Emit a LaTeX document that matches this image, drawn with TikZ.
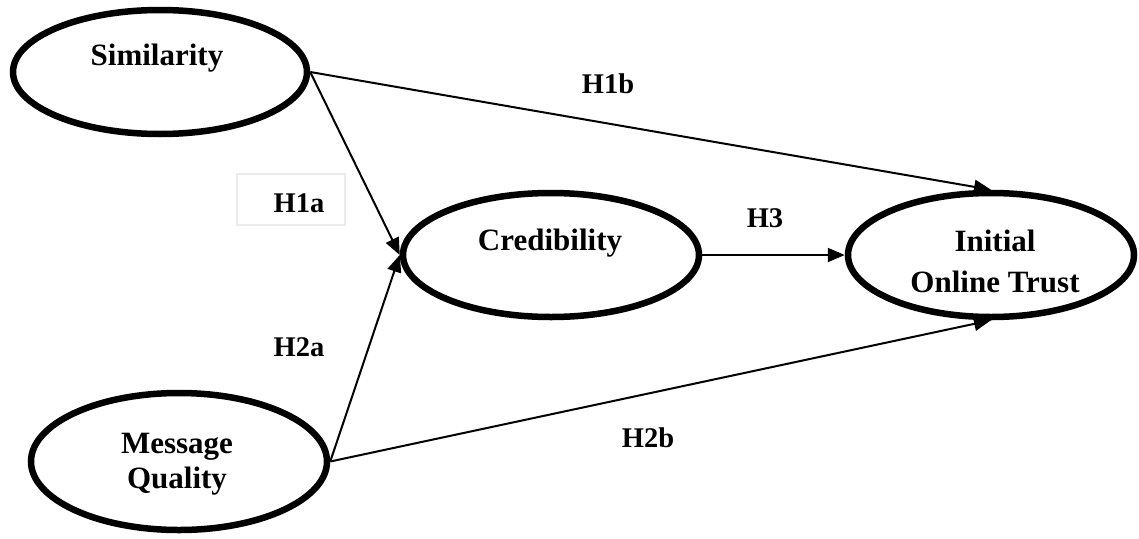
\documentclass[tikz,border=0pt]{standalone}
\usepackage{fontspec}
\setmainfont{Liberation Serif}
\usetikzlibrary{arrows.meta,shapes.geometric}
\tikzset{
  construct/.style={ellipse, draw=black, line width=6.5pt, inner sep=0pt, outer sep=3.25pt, fill=white},
  ctext/.style={anchor=base, font=\fontsize{31}{37}\selectfont\bfseries, inner sep=0pt},
  hlabel/.style={anchor=base, font=\fontsize{28.5}{34}\selectfont\bfseries, inner sep=0pt},
  path/.style={line width=2pt, -{Triangle[length=17pt,width=14pt]}}
}
\begin{document}
\begin{tikzpicture}[x=1pt,y=-1pt]
\useasboundingbox (0,0) rectangle (1139,538);
% constructs
\node[construct, minimum width=294pt, minimum height=124pt] (sim) at (160,72) {};
\node[construct, minimum width=296pt, minimum height=137pt] (mq) at (179,461.5) {};
\node[construct, minimum width=296pt, minimum height=124pt] (cred) at (551,255) {};
\node[construct, minimum width=286pt, minimum height=124pt] (trust) at (991,255) {};
% texts
\node[ctext] (simt) at (157,65) {Similarity};
\node[ctext] (mqt1) at (177,453) {Message};
\node[ctext] (mqt2) at (177,488) {Quality};
\node[ctext] (credt) at (550,250) {Credibility};
\node[ctext] (trt1) at (995,251) {Initial};
\node[ctext] (trt2) at (995,292) {Online Trust};
% paths
\draw[path] (sim.east) -- (cred.west);
\draw[path] (sim.east) -- (trust.north);
\draw[path] (mq.east) -- (cred.west);
\draw[path] (mq.east) -- (trust.south);
\draw[path] (cred.east) -- (trust.west);
% labels
\node[draw=black!8, line width=1.5pt, minimum width=108pt, minimum height=51pt, inner sep=0pt] (h1abox) at (291,199.5) {};
\node[hlabel] (h1a) at (299,212) {H1a};
\node[hlabel] (h1b) at (608,93) {H1b};
\node[hlabel] (h2a) at (299,356) {H2a};
\node[hlabel] (h2b) at (648,447) {H2b};
\node[hlabel] (h3) at (765,227) {H3};
\end{tikzpicture}
\end{document}
